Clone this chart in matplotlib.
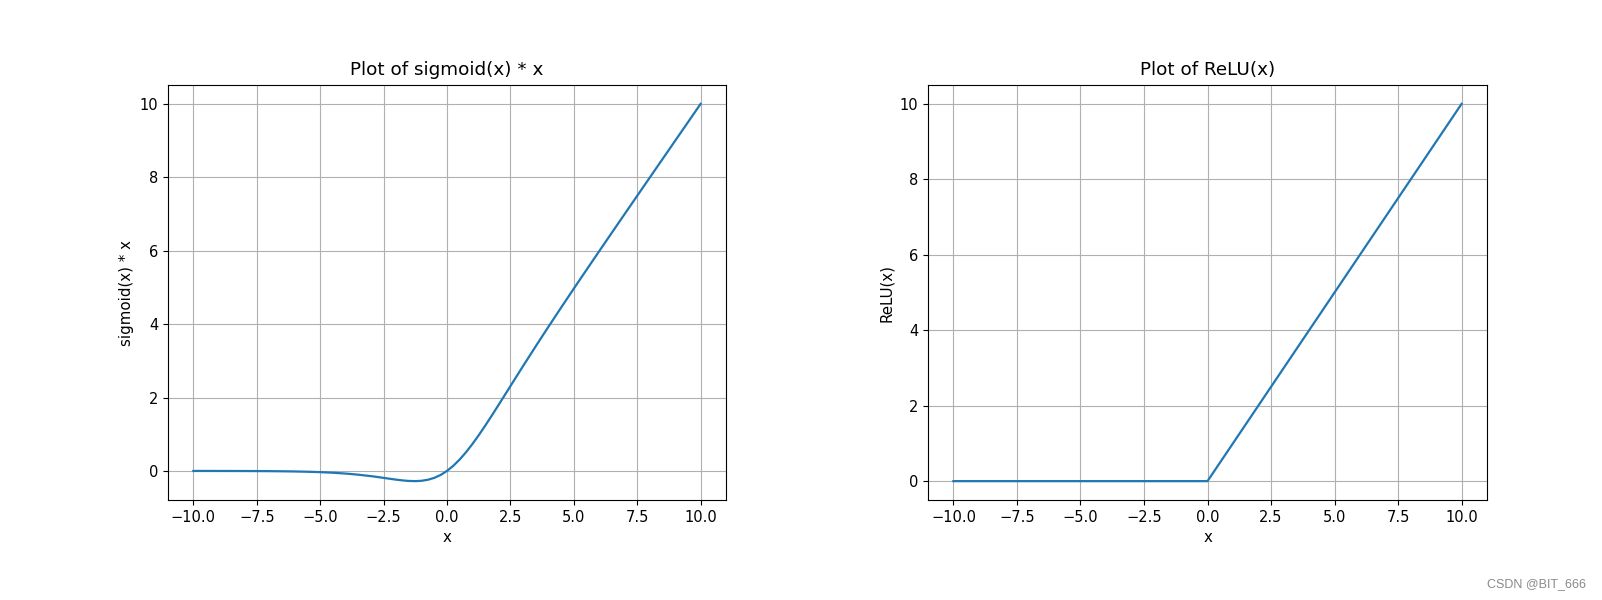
import matplotlib
matplotlib.use("Agg")
import matplotlib.pyplot as plt

# Values
swish_x = [-10, -9.5, -9, -8.5, -8, -7.5, -7, -6.5, -6, -5.5, -5, -4.5, -4, -3.5,
           -3, -2.75, -2.5, -2.25, -2, -1.75, -1.5, -1.25, -1, -0.75, -0.5, -0.25,
           0, 0.25, 0.5, 0.75, 1, 1.25, 1.5, 1.75, 2, 2.25, 2.5, 2.75, 3,
           3.5, 4, 4.5, 5, 5.5, 6, 6.5, 7, 7.5, 8, 8.5, 9, 9.5, 10]
swish_y = [-0.0005, -0.0007, -0.0011, -0.0017, -0.0027, -0.0041, -0.0064, -0.0098,
           -0.0148, -0.0224, -0.0335, -0.0495, -0.0719, -0.1026,
           -0.1423, -0.1652, -0.1897, -0.2145, -0.2384, -0.2591, -0.2736, -0.2784,
           -0.2689, -0.2406, -0.1888, -0.1095,
           0.0, 0.1405, 0.3112, 0.5094, 0.7311, 0.9716, 1.2264, 1.4909, 1.7616,
           2.0355, 2.3104, 2.5848, 2.8577,
           3.3974, 3.9281, 4.4506, 4.9665, 5.4776, 5.9852, 6.4903, 6.9936, 7.4959,
           7.9973, 8.4983, 8.9989, 9.4993, 9.9995]

relu_x = [-10, 0, 10]
relu_y = [0, 0, 10]

titles = ["Plot of sigmoid(x) * x", "Plot of ReLU(x)"]
ylabels = ["sigmoid(x) * x", "ReLU(x)"]
xlabel = "x"
watermark = "CSDN @BIT_666"

W, H = 1602, 600
fig = plt.figure(figsize=(W / 100, H / 100), dpi=100)

ax1 = fig.add_axes([168 / W, 1 - 500 / H, (726 - 168) / W, 415 / H])
ax2 = fig.add_axes([928 / W, 1 - 500 / H, (1487 - 928) / W, 415 / H])

for ax, xs, ys, t, yl in [(ax1, swish_x, swish_y, titles[0], ylabels[0]),
                          (ax2, relu_x, relu_y, titles[1], ylabels[1])]:
    ax.plot(xs, ys, color="#1f77b4", linewidth=1.6)
    ax.set_title(t, fontsize=13.2, pad=7)
    ax.set_xlabel(xlabel, fontsize=10.8)
    ax.set_ylabel(yl, fontsize=10.8)
    ax.grid(True)
    ax.tick_params(labelsize=10.5)

fig.text(1586 / W, 1 - 584 / H, watermark, ha="right", va="center",
         fontsize=9, color="#8a8a8a", family="Liberation Sans")

fig.savefig("out.png", dpi=100)
